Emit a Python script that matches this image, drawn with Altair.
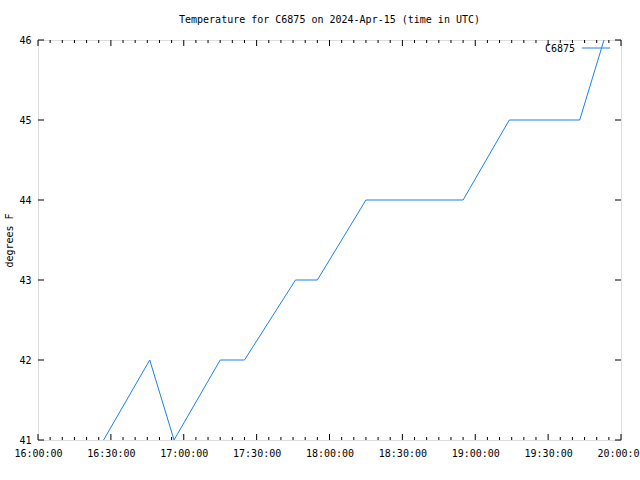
import altair as alt
import pandas as pd

# Data
times = ["16:27", "16:46", "16:56", "17:15", "17:25", "17:46", "17:55",
         "18:15", "18:55", "19:14", "19:43", "19:53"]
temps = [41, 42, 41, 42, 42, 43, 43, 44, 44, 45, 45, 46]

major_ticks = ["16:00", "16:30", "17:00", "17:30", "18:00", "18:30", "19:00", "19:30", "20:00"]
minor_ticks = [f"{h:02d}:{m:02d}" for h in range(16, 20) for m in range(5, 60, 5) if m % 30 != 0]
y_ticks = [41, 42, 43, 44, 45, 46]

day = "2024-04-15T"
df = pd.DataFrame({"t": [day + t + ":00" for t in times], "temp": temps})
df_major = pd.DataFrame({"t": [day + t + ":00" for t in major_ticks]})
df_minor = pd.DataFrame({"t": [day + t + ":00" for t in minor_ticks]})
df_y = pd.DataFrame({"v": y_ticks})

W, H = 583, 400
FONT = "DejaVu Sans Mono"
LINE_COLOR = "#1a80f0"

xscale = alt.Scale(domain=[day + "16:00:00", day + "20:00:00"], type="utc")
yscale = alt.Scale(domain=[41, 46], zero=False)

x_enc = alt.X("t:T", scale=xscale,
              axis=alt.Axis(values=[day + t + ":00" for t in major_ticks], format="%H:%M:%S",
                            title=None, ticks=False, domain=False, grid=False,
                            labelPadding=8, labelFont=FONT, labelFontSize=10,
                            labelColor="black", labelFlush=False, labelOverlap=False))
y_enc = alt.Y("temp:Q", scale=yscale,
              axis=alt.Axis(values=y_ticks, format="d", title="degrees F", ticks=False,
                            domain=False, grid=False,
                            labelPadding=7, labelFont=FONT, labelFontSize=10, labelColor="black",
                            titleFont=FONT, titleFontSize=10, titleFontWeight="normal",
                            titleColor="black", titlePadding=4))

line = alt.Chart(df).mark_line(color=LINE_COLOR, strokeWidth=1, clip=True).encode(
    x=x_enc, y=y_enc)

def xticks(data, size):
    xt = alt.X("t:T", scale=xscale)
    bottom = alt.Chart(data).mark_rule(color="black", strokeWidth=1).encode(
        x=xt, y=alt.value(H), y2=alt.value(H - size))
    top = alt.Chart(data).mark_rule(color="black", strokeWidth=1).encode(
        x=xt, y=alt.value(0), y2=alt.value(size))
    return bottom + top

yt = alt.Y("v:Q", scale=yscale)
yleft = alt.Chart(df_y).mark_rule(color="black", strokeWidth=1).encode(
    y=yt, x=alt.value(0), x2=alt.value(6))
yright = alt.Chart(df_y).mark_rule(color="black", strokeWidth=1).encode(
    y=yt, x=alt.value(W), x2=alt.value(W - 6))

legend_text = alt.Chart(pd.DataFrame({"s": ["C6875"]})).mark_text(
    font=FONT, fontSize=10, align="right", baseline="middle", color="black").encode(
    text="s:N", x=alt.value(537), y=alt.value(9))
legend_line = alt.Chart(pd.DataFrame({"s": ["C6875"]})).mark_rule(
    color=LINE_COLOR, strokeWidth=1).encode(
    x=alt.value(544), x2=alt.value(572), y=alt.value(8))

chart = alt.layer(
    line, xticks(df_major, 6), xticks(df_minor, 3), yleft, yright, legend_text, legend_line
).properties(
    width=W, height=H,
    title=alt.TitleParams("Temperature for C6875 on 2024-Apr-15 (time in UTC)",
                          font=FONT, fontSize=10, fontWeight="normal", color="black",
                          offset=10),
    padding={"left": 38, "top": 40, "right": 19, "bottom": 40},
    autosize=alt.AutoSizeParams(type="none"),
).configure_view(stroke="black", strokeWidth=1).configure(background="white")

chart.save("out.html", embed_options={"renderer": "svg", "actions": False})
